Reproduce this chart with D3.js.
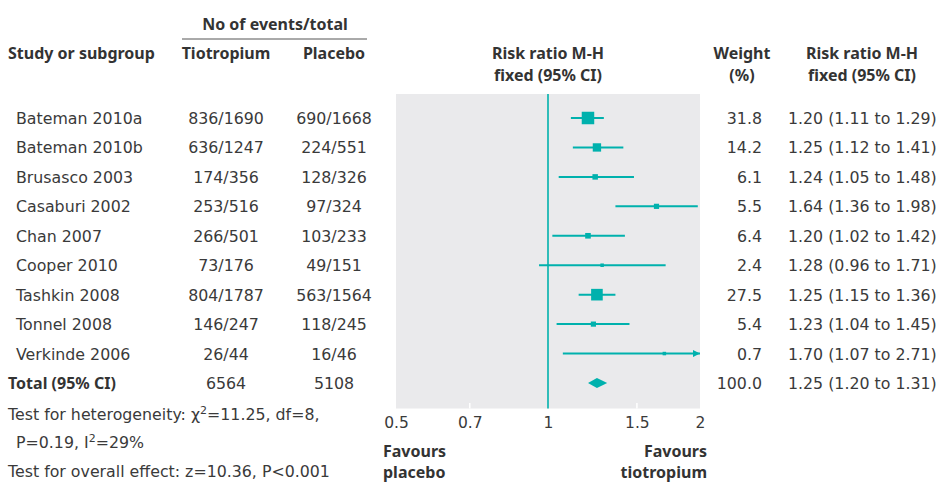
<!DOCTYPE html>
<html>
<head>
<meta charset="utf-8">
<script src="https://cdn.jsdelivr.net/npm/d3@7"></script>
<style>
  body { margin: 0; background: #fff; }
  text { font-family: "DejaVu Sans", "Noto Sans", sans-serif; font-size: 15.8px; fill: #3a3a3a; }
  .bold { font-family: "Noto Sans", "Open Sans", sans-serif; font-size: 16px; font-weight: bold; fill: #333; }
</style>
</head>
<body>
<div id="chart"></div>
<script>
// data
const studies = ["Bateman 2010a", "Bateman 2010b", "Brusasco 2003", "Casaburi 2002", "Chan 2007",
  "Cooper 2010", "Tashkin 2008", "Tonnel 2008", "Verkinde 2006"];
const tioEvents = [836, 636, 174, 253, 266, 73, 804, 146, 26];
const tioTotal = [1690, 1247, 356, 516, 501, 176, 1787, 247, 44];
const plaEvents = [690, 224, 128, 97, 103, 49, 563, 118, 16];
const plaTotal = [1668, 551, 326, 324, 233, 151, 1564, 245, 46];
const weights = [31.8, 14.2, 6.1, 5.5, 6.4, 2.4, 27.5, 5.4, 0.7];
const rr = [1.20, 1.25, 1.24, 1.64, 1.20, 1.28, 1.25, 1.23, 1.70];
const lower = [1.11, 1.12, 1.05, 1.36, 1.02, 0.96, 1.15, 1.04, 1.07];
const upper = [1.29, 1.41, 1.48, 1.98, 1.42, 1.71, 1.36, 1.45, 2.71];
const total = { tio: 6564, pla: 5108, weight: 100.0, rr: 1.25, lo: 1.20, hi: 1.31 };
const tickValues = [0.5, 0.7, 1, 1.5, 2];

const W = 941, H = 482;
const teal = "#00b1ad";

const svg = d3.select("#chart").append("svg")
  .attr("width", W).attr("height", H);

// scales
const x = d3.scaleLog().domain([0.5, 2]).range([396, 700]);
const y = d3.scalePoint().domain(d3.range(studies.length + 1)).range([118, 383]);
const side = d3.scaleSqrt().domain([0, 31.8]).range([0, 12.5]);

const fmt2 = d3.format(".2f");
const ciText = (r, l, h) => `${fmt2(r)} (${fmt2(l)} to ${fmt2(h)})`;

// header
svg.append("text").attr("class", "bold").attr("x", 275).attr("y", 30)
  .attr("text-anchor", "middle").text("No of events/total");
svg.append("line").attr("x1", 182).attr("x2", 367).attr("y1", 39).attr("y2", 39)
  .attr("stroke", "#555").attr("stroke-width", 1);
svg.append("text").attr("class", "bold").attr("x", 8).attr("y", 59).text("Study or subgroup");
svg.append("text").attr("class", "bold").attr("x", 226).attr("y", 59)
  .attr("text-anchor", "middle").text("Tiotropium");
svg.append("text").attr("class", "bold").attr("x", 334).attr("y", 59)
  .attr("text-anchor", "middle").text("Placebo");
svg.append("text").attr("class", "bold").attr("x", 548).attr("y", 59)
  .attr("text-anchor", "middle").text("Risk ratio M-H");
svg.append("text").attr("class", "bold").attr("x", 548).attr("y", 81)
  .attr("text-anchor", "middle").text("fixed (95% CI)");
svg.append("text").attr("class", "bold").attr("x", 742).attr("y", 59)
  .attr("text-anchor", "middle").text("Weight");
svg.append("text").attr("class", "bold").attr("x", 742).attr("y", 81)
  .attr("text-anchor", "middle").text("(%)");
svg.append("text").attr("class", "bold").attr("x", 862).attr("y", 59)
  .attr("text-anchor", "middle").text("Risk ratio M-H");
svg.append("text").attr("class", "bold").attr("x", 862).attr("y", 81)
  .attr("text-anchor", "middle").text("fixed (95% CI)");

// plot panel
svg.append("rect").attr("x", x(0.5)).attr("y", 94)
  .attr("width", x(2) - x(0.5)).attr("height", 314.5).attr("fill", "#eaeaec");

// white tick marks at the bottom of panel
svg.append("g").selectAll("line").data([0.7, 1.5]).join("line")
  .attr("x1", d => x(d)).attr("x2", d => x(d))
  .attr("y1", 403).attr("y2", 408.5)
  .attr("stroke", "#fff").attr("stroke-width", 1.5);

// axis labels
const axis = d3.axisBottom(x).tickValues(tickValues).tickFormat(d3.format("")).tickSize(0).tickPadding(0);
const axisG = svg.append("g").attr("transform", "translate(0,410)").call(axis);
axisG.select(".domain").remove();
axisG.selectAll("text").attr("dy", 18)
  .style("font-family", "'DejaVu Sans', sans-serif").style("font-size", "15.5px").attr("fill", "#444");

// null line
svg.append("line").attr("x1", x(1)).attr("x2", x(1)).attr("y1", 94).attr("y2", 408.5)
  .attr("stroke", teal).attr("stroke-width", 1.6);

// arrow marker for truncated CI
svg.append("defs").append("marker")
  .attr("id", "arrow").attr("viewBox", "0 0 10 10")
  .attr("refX", 10).attr("refY", 5)
  .attr("markerWidth", 10).attr("markerHeight", 7).attr("markerUnits", "userSpaceOnUse")
  .attr("orient", "auto")
  .append("path").attr("d", "M0,0L10,5L0,10Z").attr("fill", teal);

// study rows
const idx = d3.range(studies.length);
const rows = svg.append("g").selectAll("g").data(idx).join("g");

rows.append("text").attr("x", 16).attr("y", i => y(i) + 6).text(i => studies[i]);
rows.append("text").attr("x", 226).attr("y", i => y(i) + 6).attr("text-anchor", "middle")
  .text(i => `${tioEvents[i]}/${tioTotal[i]}`);
rows.append("text").attr("x", 334).attr("y", i => y(i) + 6).attr("text-anchor", "middle")
  .text(i => `${plaEvents[i]}/${plaTotal[i]}`);
rows.append("text").attr("x", 762).attr("y", i => y(i) + 6).attr("text-anchor", "end")
  .text(i => d3.format(".1f")(weights[i]));
rows.append("text").attr("x", 788).attr("y", i => y(i) + 6)
  .text(i => ciText(rr[i], lower[i], upper[i]));

rows.append("line")
  .attr("x1", i => x(Math.max(lower[i], 0.5)))
  .attr("x2", i => x(Math.min(upper[i], 2)))
  .attr("y1", i => y(i)).attr("y2", i => y(i))
  .attr("stroke", teal).attr("stroke-width", 2)
  .attr("marker-end", i => upper[i] > 2 ? "url(#arrow)" : null);

rows.append("rect")
  .attr("x", i => x(rr[i]) - Math.max(3.5, side(weights[i])) / 2)
  .attr("y", i => y(i) - Math.max(3.5, side(weights[i])) / 2)
  .attr("width", i => Math.max(3.5, side(weights[i])))
  .attr("height", i => Math.max(3.5, side(weights[i])))
  .attr("fill", teal);

// total row
const ty = y(studies.length);
svg.append("text").attr("class", "bold").attr("x", 8).attr("y", ty + 6).text("Total (95% CI)");
svg.append("text").attr("x", 226).attr("y", ty + 6).attr("text-anchor", "middle").text(total.tio);
svg.append("text").attr("x", 334).attr("y", ty + 6).attr("text-anchor", "middle").text(total.pla);
svg.append("text").attr("x", 762).attr("y", ty + 6).attr("text-anchor", "end")
  .text(d3.format(".1f")(total.weight));
svg.append("text").attr("x", 788).attr("y", ty + 6).text(ciText(total.rr, total.lo, total.hi));
svg.append("path")
  .attr("d", `M${x(total.lo)},${ty}L${x(total.rr)},${ty - 5}L${x(total.hi)},${ty}L${x(total.rr)},${ty + 5}Z`)
  .attr("fill", teal);

// footer text
const het = svg.append("text").attr("x", 8).attr("y", 420);
het.append("tspan").text("Test for heterogeneity: \u03c7");
het.append("tspan").attr("dy", -6).style("font-size", "11px").text("2");
het.append("tspan").attr("dy", 6).text("=11.25, df=8,");
const het2 = svg.append("text").attr("x", 16).attr("y", 448);
het2.append("tspan").text("P=0.19, I");
het2.append("tspan").attr("dy", -6).style("font-size", "11px").text("2");
het2.append("tspan").attr("dy", 6).text("=29%");
svg.append("text").attr("x", 8).attr("y", 477).text("Test for overall effect: z=10.36, P<0.001");

// favours labels
svg.append("text").attr("class", "bold").attr("x", 383).attr("y", 457).text("Favours");
svg.append("text").attr("class", "bold").attr("x", 383).attr("y", 478).text("placebo");
svg.append("text").attr("class", "bold").attr("x", 707).attr("y", 457).attr("text-anchor", "end").text("Favours");
svg.append("text").attr("class", "bold").attr("x", 707).attr("y", 478).attr("text-anchor", "end").text("tiotropium");
</script>
</body>
</html>
